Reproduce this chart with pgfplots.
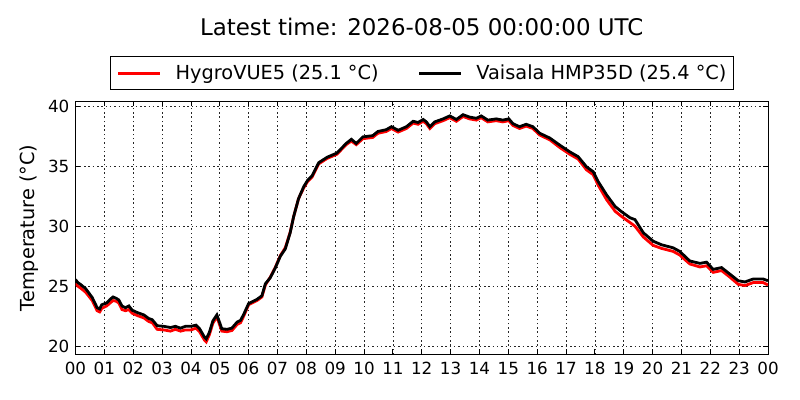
\documentclass[border=0pt]{standalone}
\usepackage{fontspec}
\setmainfont{DejaVu Sans}
\usepackage{pgfplots}
\pgfplotsset{compat=1.18}
\begin{document}
\begin{tikzpicture}
\path[use as bounding box] (0bp,0bp) rectangle (800bp,400bp);
\begin{axis}[
 at={(75.5bp,45.5bp)}, anchor=south west, scale only axis,
 width=692.5bp, height=253bp,
 xmin=0, xmax=24, ymin=19.3, ymax=40.4,
 xtick={0,1,...,24},
 xticklabels={00,01,02,03,04,05,06,07,08,09,10,11,12,13,14,15,16,17,18,19,20,21,22,23,00},
 ytick={20,25,30,35,40},
 tick align=inside, major tick length=5bp,
 grid=major,
 major grid style={black!85, line width=0.6bp, dash pattern=on 1.5bp off 2.8bp},
 axis line style={black, line width=1bp},
 tick style={black, line width=0.8bp},
 /pgf/number format/assume math mode=true,
 ticklabel style={font=\fontsize{16.8}{20}\selectfont},
 xticklabel style={anchor=north, inner sep=0pt, yshift=-7.2bp},
 yticklabel style={anchor=east, inner sep=0pt, xshift=-6bp},
 ylabel={Temperature (°C)},
 ylabel style={font=\fontsize{19.4}{23}\selectfont, at={(axis description cs:-0.0599,0.5)}, anchor=base, inner sep=0pt},
 title={Latest time: 2026-08-05 00:00:00 UTC},
 title style={font=\fontsize{23}{27}\selectfont, at={(axis description cs:0.5,1.2364)}, anchor=base, inner sep=0pt},
 legend columns=2,
 legend style={at={(axis description cs:0.5,1.1126)}, anchor=center, draw=black, line width=1bp,
   font=\fontsize{19.4}{23}\selectfont, inner xsep=6.5bp, inner ysep=8.5bp,
   nodes={inner sep=0pt},
   /tikz/every odd column/.append style={column sep=14bp},
   /tikz/every even column/.append style={column sep=39bp}},
 legend image post style={line width=3bp},
 legend image code/.code={\draw[#1, line width=3bp] (0bp,0bp) -- (41.7bp,0bp);},
]
\addplot[red, line width=2.8bp] coordinates {
(0.00,25.25) (0.08,25.0) (0.17,24.85) (0.35,24.5) (0.58,23.8) (0.75,22.95) (0.84,22.85) (0.91,23.15)
(1.08,23.35) (1.20,23.6) (1.30,23.8) (1.40,23.75) (1.50,23.6) (1.61,23.05) (1.73,22.95) (1.85,23.05)
(1.96,22.75) (2.14,22.55) (2.37,22.35) (2.54,22.05) (2.66,21.95) (2.83,21.4) (3.06,21.35) (3.29,21.25)
(3.46,21.4) (3.64,21.25) (3.81,21.35) (4.00,21.35) (4.18,21.5) (4.30,21.2) (4.47,20.5) (4.53,20.35)
(4.64,20.95) (4.76,21.9) (4.90,22.45) (4.99,21.8) (5.07,21.25) (5.25,21.2) (5.42,21.3) (5.60,21.8)
(5.72,21.95) (5.83,22.5) (6.00,23.45) (6.29,23.8) (6.46,24.1) (6.58,25.1) (6.75,25.75) (6.92,26.55)
(7.10,27.55) (7.27,28.2) (7.44,29.5) (7.56,30.8) (7.73,32.3) (7.91,33.2) (8.05,33.75) (8.20,34.1)
(8.43,35.2) (8.72,35.65) (9.06,36.0) (9.38,36.8) (9.56,37.1) (9.73,36.8) (9.96,37.3) (10.30,37.4)
(10.48,37.75) (10.77,37.9) (10.95,38.15) (11.18,37.85) (11.47,38.15) (11.70,38.6) (11.87,38.5) (12.05,38.75)
(12.16,38.55) (12.28,38.15) (12.45,38.55) (12.74,38.8) (12.97,39.05) (13.20,38.75) (13.43,39.15) (13.66,38.95)
(13.89,38.85) (14.06,39.05) (14.29,38.7) (14.58,38.8) (14.81,38.7) (15.02,38.8) (15.16,38.4) (15.39,38.15)
(15.62,38.35) (15.85,38.15) (16.09,37.6) (16.44,37.2) (16.79,36.55) (17.13,36.0) (17.42,35.6) (17.71,34.7)
(17.94,34.3) (18.12,33.4) (18.41,32.2) (18.70,31.25) (18.93,30.8) (19.22,30.3) (19.39,30.0) (19.68,29.1)
(20.02,28.4) (20.31,28.15) (20.71,27.9) (20.94,27.6) (21.29,26.85) (21.64,26.6) (21.87,26.7) (22.10,26.15)
(22.39,26.3) (22.68,25.75) (22.97,25.15) (23.20,25.05) (23.49,25.3) (23.83,25.3) (24.00,25.1)
};
\addlegendentry{HygroVUE5 (25.1 °C)}
\addplot[black, line width=2.8bp] coordinates {
(0.00,25.55) (0.08,25.3) (0.17,25.15) (0.35,24.8) (0.58,24.05) (0.75,23.2) (0.84,23.1) (0.91,23.45)
(1.08,23.6) (1.20,23.9) (1.30,24.1) (1.40,24.0) (1.50,23.85) (1.61,23.35) (1.73,23.2) (1.85,23.35)
(1.96,23.0) (2.14,22.8) (2.37,22.6) (2.54,22.3) (2.66,22.2) (2.83,21.7) (3.06,21.65) (3.29,21.55)
(3.46,21.65) (3.64,21.5) (3.81,21.65) (4.00,21.65) (4.18,21.75) (4.30,21.45) (4.47,20.75) (4.53,20.6)
(4.64,21.15) (4.76,22.1) (4.90,22.6) (4.99,22.0) (5.07,21.45) (5.25,21.4) (5.42,21.5) (5.60,22.0)
(5.72,22.15) (5.83,22.65) (6.00,23.55) (6.29,23.9) (6.46,24.2) (6.58,25.2) (6.75,25.7) (6.92,26.5)
(7.10,27.5) (7.27,28.1) (7.44,29.45) (7.56,30.8) (7.73,32.3) (7.91,33.3) (8.05,33.85) (8.20,34.2)
(8.43,35.3) (8.72,35.75) (9.06,36.1) (9.38,36.9) (9.56,37.25) (9.73,36.9) (9.96,37.45) (10.30,37.55)
(10.48,37.9) (10.77,38.05) (10.95,38.3) (11.18,38.0) (11.47,38.3) (11.70,38.75) (11.87,38.65) (12.05,38.9)
(12.16,38.7) (12.28,38.3) (12.45,38.7) (12.74,38.95) (12.97,39.2) (13.20,38.9) (13.43,39.3) (13.66,39.1)
(13.89,39.0) (14.06,39.2) (14.29,38.85) (14.58,38.95) (14.81,38.85) (15.02,38.95) (15.16,38.55) (15.39,38.3)
(15.62,38.5) (15.85,38.3) (16.09,37.75) (16.44,37.35) (16.79,36.75) (17.13,36.2) (17.42,35.8) (17.71,34.95)
(17.94,34.55) (18.12,33.7) (18.41,32.6) (18.70,31.65) (18.93,31.2) (19.22,30.7) (19.39,30.55) (19.68,29.45)
(20.02,28.75) (20.31,28.45) (20.71,28.2) (20.94,27.9) (21.29,27.1) (21.64,26.9) (21.87,27.0) (22.10,26.4)
(22.39,26.55) (22.68,26.0) (22.97,25.45) (23.20,25.35) (23.49,25.6) (23.83,25.6) (24.00,25.45)
};
\addlegendentry{Vaisala HMP35D (25.4 °C)}
\end{axis}
\end{tikzpicture}
\end{document}
